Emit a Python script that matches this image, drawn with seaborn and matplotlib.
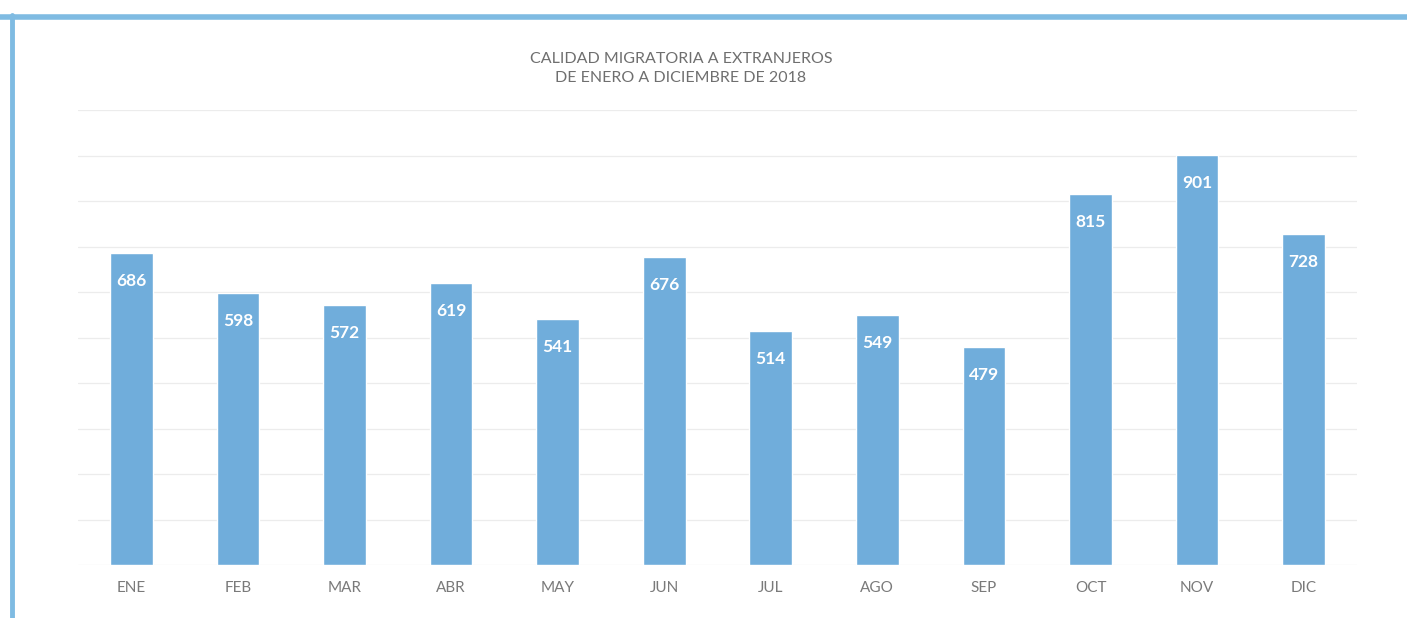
import matplotlib.pyplot as plt
import seaborn as sns
import pandas as pd
from matplotlib.lines import Line2D

months = ["ENE", "FEB", "MAR", "ABR", "MAY", "JUN", "JUL", "AGO", "SEP", "OCT", "NOV", "DIC"]
values = [686, 598, 572, 619, 541, 676, 514, 549, 479, 815, 901, 728]

title = "CALIDAD MIGRATORIA A EXTRANJEROS\nDE ENERO A DICIEMBRE DE 2018"

bar_color = "#70addb"
frame_color = "#7fbbe2"
text_gray = "#7a7a7a"

sns.set_style("white")
plt.rcParams["font.family"] = ["Lato", "DejaVu Sans"]

df = pd.DataFrame({"mes": months, "total": values})

fig = plt.figure(figsize=(14.07, 6.18), dpi=100)
ax = fig.add_axes([78 / 1407, 53 / 618, 1279 / 1407, 455 / 618])

sns.barplot(data=df, x="mes", y="total", color=bar_color, width=0.4,
            saturation=1, ax=ax, zorder=3)

ax.set_xlim(-0.5, 11.5)
ax.set_ylim(0, 1000)
ax.set_yticks(range(0, 1001, 100))
ax.yaxis.grid(True, color="#ececec", linewidth=0.9, zorder=0)
ax.tick_params(axis="y", left=False, labelleft=False)
ax.tick_params(axis="x", bottom=False, labelsize=11, labelcolor=text_gray, pad=8)
ax.set_xlabel("")
ax.set_ylabel("")
sns.despine(ax=ax, left=True, bottom=True)

for i, v in enumerate(values):
    ax.annotate(str(v), (i, v), xytext=(0, -20), textcoords="offset points",
                ha="center", va="center", color="white", fontsize=12.5,
                fontweight="bold", zorder=4)

fig.text(0.484, 0.889, title, ha="center", va="center", fontsize=11.5,
         color="#6f6f6f", linespacing=1.4)

# marco azul del documento
fig.add_artist(Line2D([0, 1], [1 - 17 / 618, 1 - 17 / 618], color=frame_color, lw=4))
fig.add_artist(Line2D([12 / 1407, 12 / 1407], [0, 1 - 15 / 618], color=frame_color, lw=3.5))

fig.savefig("out.png", dpi=100, facecolor="white")
